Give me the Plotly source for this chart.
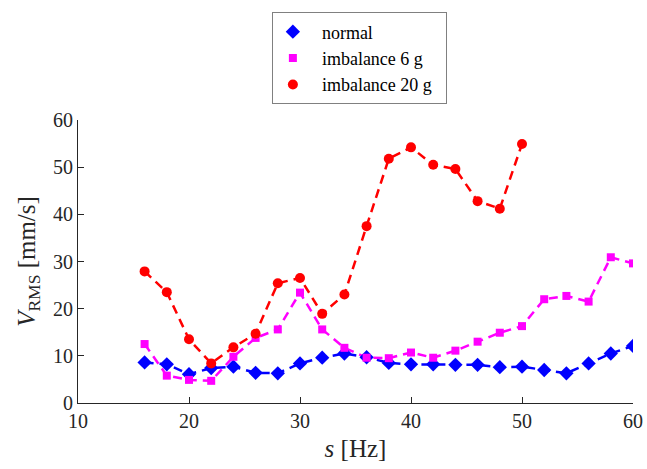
import plotly.graph_objects as go

freq_normal = [16, 18, 20, 22, 24, 26, 28, 30, 32, 34, 36, 38, 40, 42, 44, 46, 48, 50, 52, 54, 56, 58, 60]
v_normal = [8.6, 8.2, 6.1, 7.4, 7.7, 6.4, 6.3, 8.4, 9.6, 10.5, 9.7, 8.5, 8.2, 8.2, 8.1, 8.1, 7.6, 7.7, 7.0, 6.3, 8.4, 10.5, 12.1]

freq_6g = [16, 18, 20, 22, 24, 26, 28, 30, 32, 34, 36, 38, 40, 42, 44, 46, 48, 50, 52, 54, 56, 58, 60]
v_6g = [12.5, 5.8, 4.9, 4.7, 9.8, 13.8, 15.6, 23.4, 15.6, 11.7, 9.6, 9.5, 10.7, 9.6, 11.1, 13.0, 14.9, 16.3, 22.0, 22.7, 21.5, 30.9, 29.6]

freq_20g = [16, 18, 20, 22, 24, 26, 28, 30, 32, 34, 36, 38, 40, 42, 44, 46, 48, 50]
v_20g = [27.9, 23.5, 13.5, 8.4, 11.8, 14.7, 25.4, 26.5, 18.9, 23.0, 37.5, 51.8, 54.2, 50.5, 49.6, 42.8, 41.2, 54.9]

series_names = ["normal", "imbalance 6 g", "imbalance 20 g"]
x_ticks = [10, 20, 30, 40, 50, 60]
y_ticks = [0, 10, 20, 30, 40, 50, 60]

FONT = "Liberation Serif, Times New Roman, serif"
AX = "#262626"

styles = [
    (freq_normal, v_normal, "#0000ff", "diamond", 11),
    (freq_6g, v_6g, "#ff00ff", "square", 8),
    (freq_20g, v_20g, "#ff0000", "circle", 10),
]

fig = go.Figure()
for (xs, ys, col, sym, sz), name in zip(styles, series_names):
    fig.add_trace(go.Scatter(x=xs, y=ys, mode="lines", showlegend=False,
                             line=dict(color=col, width=2.5, dash="9px,6px"), hoverinfo="skip"))
for (xs, ys, col, sym, sz), name in zip(styles, series_names):
    fig.add_trace(go.Scatter(x=xs, y=ys, mode="markers", name="\u00a0\u00a0" + name + "\u00a0\u00a0",
                             marker=dict(symbol=sym, size=sz, color=col)))

fig.update_layout(
    width=647, height=469,
    margin=dict(l=78, r=14, t=118, b=66),
    paper_bgcolor="white", plot_bgcolor="white",
    font=dict(family=FONT, color=AX, size=20),
    showlegend=True,
    legend=dict(x=0.507, xanchor="center", y=1.38, yanchor="top",
                bordercolor="#808080", borderwidth=1, bgcolor="white",
                font=dict(family=FONT, size=18, color="black"),
                tracegroupgap=0, itemwidth=30),
    xaxis=dict(range=[10, 60], tickvals=x_ticks, ticktext=[str(t) for t in x_ticks],
               showline=True, linecolor=AX, linewidth=1, mirror=False, automargin=False,
               ticks="inside", ticklen=6, tickcolor=AX, showgrid=False, zeroline=False,
               tickfont=dict(size=20, family=FONT, color=AX),
               title=dict(text="<i>s</i> [Hz]", font=dict(size=25, family=FONT, color=AX), standoff=8)),
    yaxis=dict(range=[0, 60], tickvals=y_ticks, ticktext=[str(t) for t in y_ticks],
               showline=True, linecolor=AX, linewidth=1, mirror=False, automargin=False,
               ticks="inside", ticklen=6, tickcolor=AX, showgrid=False, zeroline=False,
               tickfont=dict(size=20, family=FONT, color=AX),
               title=dict(text="<i>V</i><sub>RMS</sub> [mm/s]", font=dict(size=25, family=FONT, color=AX), standoff=10)),
)

fig.write_html("out.html", config={"displayModeBar": False},
               post_script="document.body.style.margin='0';document.body.style.overflow='hidden';")
